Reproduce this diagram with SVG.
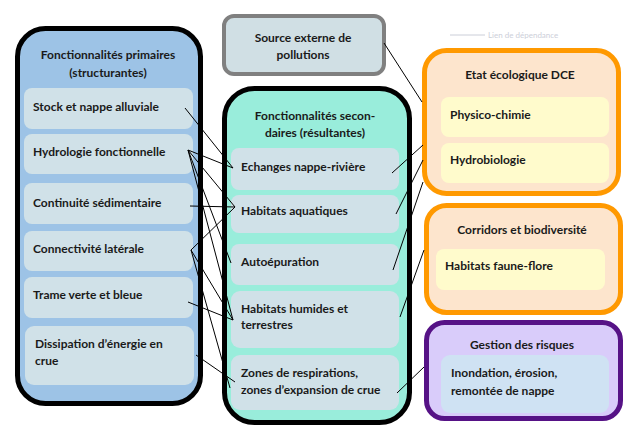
<svg xmlns="http://www.w3.org/2000/svg" width="629" height="428" viewBox="0 0 629 428">
<style>
text{font-family:Lato,"Open Sans","Liberation Sans",sans-serif;font-weight:bold;font-size:12px;fill:#1a1a1a}
.c{text-anchor:middle}
.big{stroke:#000;stroke-width:5}
.inl{fill:#D0E1E8}
.yel{fill:#FFFBCC}
.org{fill:#FDE5CD;stroke:#FF9900;stroke-width:5}
.ln{stroke:#000;stroke-width:1;fill:none}
</style>
<rect width="629" height="428" fill="#fff"/>
<g id="legend" opacity="0.5">
<line x1="450" y1="35" x2="485" y2="35" stroke="#9aa0b4" stroke-width="1"/>
<text x="488" y="38" style="font-size:8px;font-weight:normal;fill:#9aa0b4">Lien de dépendance</text>
</g>
<g id="primaires">
<rect x="17.5" y="28.5" width="183" height="375" rx="28" fill="#9DC3E6" class="big"/>
<text x="108" y="59" class="c">Fonctionnalités primaires</text>
<text x="108" y="77" class="c">(structurantes)</text>
<rect x="24" y="88" width="169" height="41" rx="8" class="inl"/>
<text x="33" y="111">Stock et nappe alluviale</text>
<rect x="24" y="134" width="169" height="40" rx="8" class="inl"/>
<text x="33" y="156">Hydrologie fonctionnelle</text>
<rect x="24" y="183" width="169" height="41" rx="8" class="inl"/>
<text x="33" y="207">Continuité sédimentaire</text>
<rect x="24" y="231" width="169" height="40" rx="8" class="inl"/>
<text x="33" y="253">Connectivité latérale</text>
<rect x="24" y="277" width="169" height="41" rx="8" class="inl"/>
<text x="33" y="299">Trame verte et bleue</text>
<rect x="25" y="326" width="169" height="59" rx="9" class="inl"/>
<text x="35" y="348">Dissipation d’énergie en</text>
<text x="35" y="365">crue</text>
</g>
<g id="source">
<rect x="224" y="16" width="160" height="58" rx="10" fill="#D0DFE4" stroke="#808080" stroke-width="4"/>
<text x="303" y="42" class="c">Source externe de</text>
<text x="303" y="59" class="c">pollutions</text>
</g>
<g id="secondaires">
<rect x="224.5" y="88.5" width="185" height="334" rx="30" fill="#99EDDB" class="big"/>
<text x="315" y="120" class="c">Fonctionnalités secon-</text>
<text x="315" y="137" class="c">daires (résultantes)</text>
<rect x="231" y="148" width="168" height="42" rx="8" class="inl"/>
<text x="241" y="171">Echanges nappe-rivière</text>
<rect x="231" y="195" width="168" height="38" rx="8" class="inl"/>
<text x="241" y="215">Habitats aquatiques</text>
<rect x="231" y="244" width="168" height="41" rx="8" class="inl"/>
<text x="241" y="266">Autoépuration</text>
<rect x="231" y="291" width="168" height="57" rx="9" class="inl"/>
<text x="241" y="313">Habitats humides et</text>
<text x="241" y="329">terrestres</text>
<rect x="231" y="355" width="168" height="55" rx="9" class="inl"/>
<text x="241" y="377">Zones de respirations,</text>
<text x="241" y="394">zones d’expansion de crue</text>
</g>
<g id="etat">
<rect x="424.5" y="50.5" width="194" height="143" rx="22" class="org"/>
<text x="520" y="79" class="c">Etat écologique DCE</text>
<rect x="441" y="97" width="168" height="40" rx="8" class="yel"/>
<text x="450" y="119">Physico-chimie</text>
<rect x="441" y="143" width="168" height="40" rx="8" class="yel"/>
<text x="450" y="164">Hydrobiologie</text>
</g>
<g id="corridors">
<rect x="426.5" y="205.5" width="194" height="107" rx="20" class="org"/>
<text x="522" y="234" class="c">Corridors et biodiversité</text>
<rect x="436" y="249" width="169" height="41" rx="8" class="yel"/>
<text x="445" y="270">Habitats faune-flore</text>
</g>
<g id="risques">
<rect x="426.5" y="322.5" width="194" height="96" rx="18" fill="#D9CCFA" stroke="#561286" stroke-width="5"/>
<text x="522" y="349" class="c">Gestion des risques</text>
<rect x="441" y="355" width="168" height="58" rx="9" fill="#CFE2F3"/>
<text x="451" y="377">Inondation, érosion,</text>
<text x="451" y="395">remontée de nappe</text>
</g>
<g id="connectors" class="ln">
<line x1="185" y1="108" x2="233" y2="168"/>
<line x1="188" y1="150" x2="233" y2="168"/>
<line x1="188" y1="150" x2="235" y2="207"/>
<line x1="188" y1="150" x2="231" y2="263"/>
<line x1="188" y1="150" x2="233" y2="320"/>
<line x1="190" y1="206" x2="235" y2="207"/>
<line x1="191" y1="250" x2="235" y2="207"/>
<line x1="191" y1="250" x2="233" y2="320"/>
<line x1="191" y1="250" x2="230" y2="388"/>
<line x1="188" y1="302" x2="233" y2="320"/>
<line x1="196" y1="355" x2="235" y2="382"/>
<line x1="384" y1="43" x2="422" y2="102"/>
<line x1="392" y1="173" x2="423" y2="145"/>
<line x1="396" y1="214" x2="423" y2="160"/>
<line x1="393" y1="270" x2="423" y2="182"/>
<line x1="400" y1="317" x2="424" y2="250"/>
<line x1="397" y1="393" x2="424" y2="367"/>
</g>
</svg>
